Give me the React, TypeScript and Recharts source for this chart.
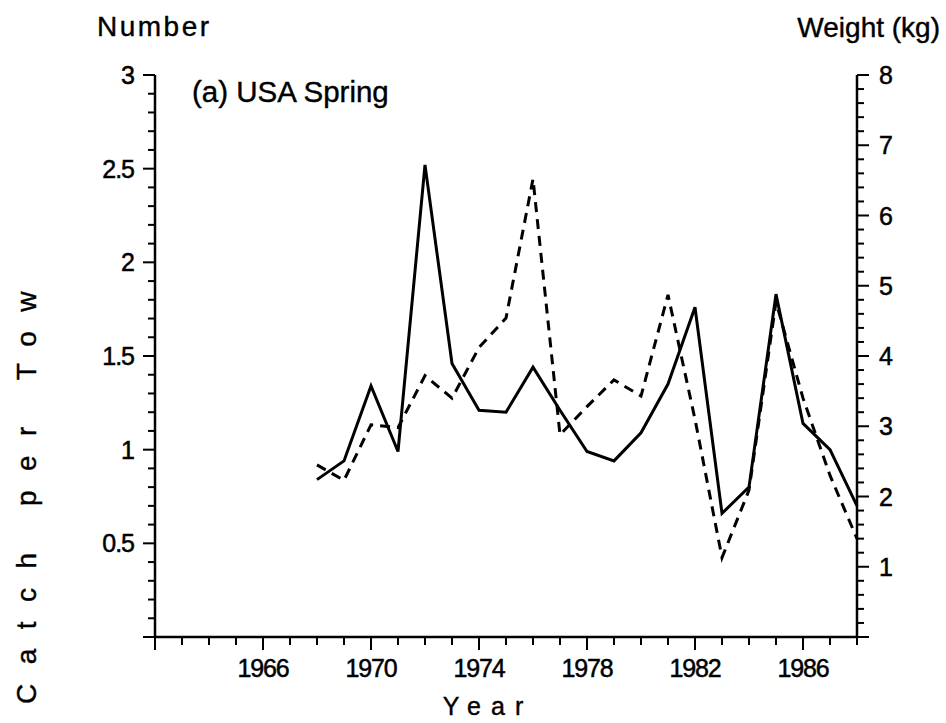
import { LineChart, Line, XAxis, YAxis } from "recharts";

// years sampled by the survey
const years = [
  1968, 1969, 1970, 1971, 1972, 1973, 1974, 1975, 1976, 1977, 1978,
  1979, 1980, 1981, 1982, 1983, 1984, 1985, 1986, 1987, 1988,
];
// solid line, left axis (number per tow)
const numberPerTow = [
  0.84, 0.94, 1.34, 0.99, 2.52, 1.46, 1.21, 1.2, 1.44, 1.21, 0.99,
  0.94, 1.09, 1.35, 1.76, 0.66, 0.8, 1.83, 1.14, 1.0, 0.7,
];
// dashed line, right axis (kg per tow)
const weightPerTow = [
  2.45, 2.23, 3.02, 2.98, 3.72, 3.4, 4.12, 4.54, 6.52, 2.88, 3.28,
  3.66, 3.43, 4.87, 3.1, 1.13, 2.09, 4.77, 3.4, 2.3, 1.4,
];

const xLabelYears = [1966, 1970, 1974, 1978, 1982, 1986];
const leftLabels = [0.5, 1, 1.5, 2, 2.5, 3];
const rightLabels = [1, 2, 3, 4, 5, 6, 7, 8];

const xTicks = Array.from({ length: 27 }, (_, i) => 1962 + i);
const leftTicks = Array.from({ length: 31 }, (_, i) => +(i * 0.1).toFixed(1));
const rightTicks = Array.from({ length: 41 }, (_, i) => +(i * 0.2).toFixed(1));

const data = years.map((year, i) => ({
  year,
  number: numberPerTow[i],
  weight: weightPerTow[i],
}));

const ink = "#000";
const font = "'Liberation Sans', Arial, sans-serif";

function XTick({ x, y, payload }: any) {
  const v = payload.value;
  const major = (v - 1962) % 4 === 0;
  return (
    <g>
      <line x1={x} y1={y} x2={x} y2={y + (major ? 13 : 8)} stroke={ink} strokeWidth={2} />
      {xLabelYears.includes(v) && (
        <text x={x} y={y + 40} textAnchor="middle" fontSize={25} letterSpacing={-1.2}
          fontFamily={font} fill={ink} stroke={ink} strokeWidth={0.5}>
          {v}
        </text>
      )}
    </g>
  );
}

function LeftTick({ x, y, payload }: any) {
  const v = payload.value;
  const major = Math.abs(v * 2 - Math.round(v * 2)) < 1e-6;
  return (
    <g>
      <line x1={x} y1={y} x2={x - (major ? 12 : 7)} y2={y} stroke={ink} strokeWidth={2} />
      {leftLabels.includes(v) && (
        <text x={x - 21} y={y + 9} textAnchor="end" fontSize={25} letterSpacing={-1}
          fontFamily={font} fill={ink} stroke={ink} strokeWidth={0.5}>
          {v}
        </text>
      )}
    </g>
  );
}

function RightTick({ x, y, payload }: any) {
  const v = payload.value;
  const major = Math.abs(v - Math.round(v)) < 1e-6;
  return (
    <g>
      <line x1={x} y1={y} x2={x + (major ? 12 : 7)} y2={y} stroke={ink} strokeWidth={2} />
      {rightLabels.includes(v) && (
        <text x={x + 22} y={y + 9} textAnchor="start" fontSize={25}
          fontFamily={font} fill={ink} stroke={ink} strokeWidth={0.5}>
          {v}
        </text>
      )}
    </g>
  );
}

const htmlText = {
  position: "absolute" as const,
  fontFamily: font,
  whiteSpace: "nowrap" as const,
  WebkitTextStroke: "0.4px #000",
};

export default function App() {
  return (
    <div style={{ position: "absolute", left: 0, top: 0, width: 946, height: 723, background: "#fff" }}>
      <LineChart
        width={946}
        height={723}
        data={data}
        margin={{ top: 75, right: 29, bottom: 36, left: 95 }}
      >
        <XAxis
          dataKey="year"
          type="number"
          domain={[1962, 1988]}
          ticks={xTicks}
          interval={0}
          tickSize={0}
          tickMargin={0}
          tickLine={false}
          height={50}
          axisLine={{ stroke: ink, strokeWidth: 2.5 }}
          tick={<XTick />}
        />
        <YAxis
          yAxisId="left"
          orientation="left"
          domain={[0, 3]}
          ticks={leftTicks}
          interval={0}
          width={60}
          tickSize={0}
          tickMargin={0}
          tickLine={false}
          axisLine={{ stroke: ink, strokeWidth: 2.5 }}
          tick={<LeftTick />}
        />
        <YAxis
          yAxisId="right"
          orientation="right"
          domain={[0, 8]}
          ticks={rightTicks}
          interval={0}
          width={60}
          tickSize={0}
          tickMargin={0}
          tickLine={false}
          axisLine={{ stroke: ink, strokeWidth: 2.5 }}
          tick={<RightTick />}
        />
        <Line
          yAxisId="left"
          type="linear"
          dataKey="number"
          stroke={ink}
          strokeWidth={3}
          dot={false}
          isAnimationActive={false}
        />
        <Line
          yAxisId="right"
          type="linear"
          dataKey="weight"
          stroke={ink}
          strokeWidth={3}
          strokeDasharray="10 7"
          dot={false}
          isAnimationActive={false}
        />
      </LineChart>

      <div style={{ ...htmlText, left: 97, top: 13, fontSize: 28, lineHeight: "28px", letterSpacing: 2.5 }}>
        Number
      </div>
      <div style={{ ...htmlText, right: 6, top: 14, fontSize: 28, lineHeight: "28px" }}>
        Weight (kg)
      </div>
      <div style={{ ...htmlText, left: 192, top: 77, fontSize: 29.5, lineHeight: "30px" }}>
        (a) USA Spring
      </div>
      <div
        style={{
          ...htmlText,
          left: 27,
          top: 488,
          transform: "translate(-50%, -50%) rotate(-90deg)",
          fontSize: 28,
          lineHeight: "30px",
          letterSpacing: 19.5,
        }}
      >
        Catch per Tow
      </div>
      <div
        style={{
          ...htmlText,
          left: 488,
          top: 706,
          transform: "translate(-50%, -50%)",
          fontSize: 25,
          letterSpacing: 10,
        }}
      >
        Year
      </div>
    </div>
  );
}
